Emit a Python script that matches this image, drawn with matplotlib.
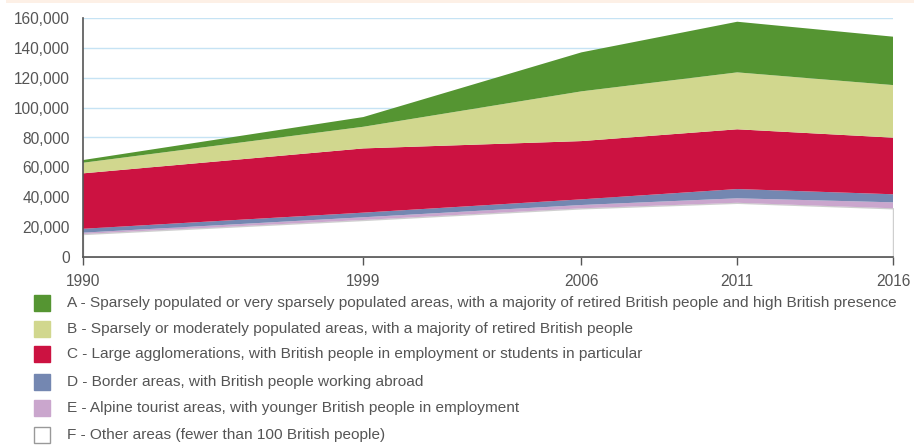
import matplotlib.pyplot as plt
from matplotlib.patches import Rectangle
from matplotlib.ticker import FuncFormatter

plt.rcParams['font.family'] = ['Liberation Sans Narrow', 'Liberation Sans', 'DejaVu Sans']

# data (number of British people, stacked from the bottom)
years = [1990, 1999, 2006, 2011, 2016]
area_f = [15400, 24800, 32600, 36300, 32600]
area_e = [900, 1800, 2200, 3000, 4000]
area_d = [2600, 3100, 3800, 6200, 5400]
area_c = [37100, 43000, 39000, 40000, 37900]
area_b = [7100, 14500, 33300, 38100, 35200]
area_a = [1800, 6500, 26100, 33900, 32400]

labels = [
    "A - Sparsely populated or very sparsely populated areas, with a majority of retired British people and high British presence",
    "B - Sparsely or moderately populated areas, with a majority of retired British people",
    "C - Large agglomerations, with British people in employment or students in particular",
    "D - Border areas, with British people working abroad",
    "E - Alpine tourist areas, with younger British people in employment",
    "F - Other areas (fewer than 100 British people)",
]
colors = ['#559532', '#d1d78e', '#cc1241', '#7487b1', '#caa6cd', '#ffffff']
txt = '#555555'

fig = plt.figure(figsize=(9.18, 4.45), dpi=100)
W, H = 918, 445

# thin peach band on top
fig.add_artist(Rectangle((6 / W, 1 - 3 / H), 908 / W, 3 / H,
                         transform=fig.transFigure, color='#fdf0e6', lw=0))

ax = fig.add_axes([83 / W, 1 - 257 / H, 810 / W, 239 / H])
polys = ax.stackplot(years, area_f, area_e, area_d, area_c, area_b, area_a,
                     colors=colors[::-1], lw=0)
polys[0].set_edgecolor('#cfcfcf')
polys[0].set_linewidth(1.0)

ax.set_xlim(1990, 2016)
ax.set_ylim(0, 160000)
ax.set_xticks(years)
ax.set_yticks(range(0, 160001, 20000))
ax.yaxis.set_major_formatter(FuncFormatter(lambda v, p: f'{int(v):,}'))
ax.yaxis.grid(True, color='#c6e3f4', lw=1)
ax.set_axisbelow(True)

for s in ['top', 'right']:
    ax.spines[s].set_visible(False)
for s in ['left', 'bottom']:
    ax.spines[s].set_color('#555555')
    ax.spines[s].set_linewidth(1.2)

ax.tick_params(axis='y', length=0, pad=9.5, labelsize=11.2, labelcolor=txt)
ax.tick_params(axis='x', length=6, width=1, color='#555555', pad=6,
               labelsize=11.2, labelcolor=txt)

# legend drawn by hand
rows = [303, 329, 354, 382, 408, 435]
for lab, col, yy in zip(labels, colors, rows):
    edge = '#999999' if col == '#ffffff' else col
    fig.add_artist(Rectangle((34 / W, 1 - (yy + 8) / H), 16 / W, 16 / H,
                             transform=fig.transFigure, facecolor=col,
                             edgecolor=edge, lw=1))
    fig.text(67 / W, 1 - yy / H, lab, fontsize=11.05, color=txt, va='center')

fig.savefig('out.png', dpi=100)
